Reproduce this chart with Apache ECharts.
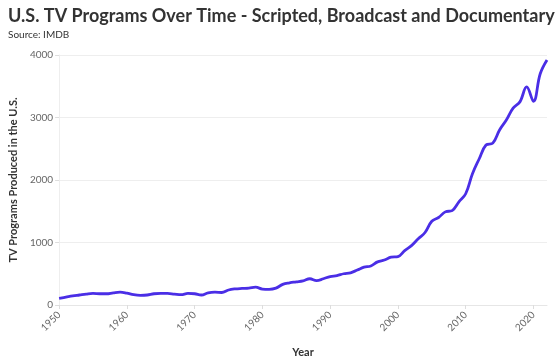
<!DOCTYPE html>
<html>
<head>
<meta charset="utf-8">
<script src="https://cdn.jsdelivr.net/npm/echarts@6/dist/echarts.min.js"></script>
<style>html,body{margin:0;padding:0;background:#fff;}#c{width:559px;height:363px;}</style>
</head>
<body>
<div id="c"></div>
<script>
const years = [];
for (let y = 1950; y <= 2022; y++) years.push(y);
const programs = [
 105,125,145,160,175,185,180,180,195,205,
 190,165,155,160,180,185,185,175,165,185,
 180,160,195,205,200,240,258,265,270,285,
 255,250,270,330,355,370,385,420,390,420,
 455,470,500,515,560,605,625,690,720,765,
 775,870,950,1060,1160,1340,1400,1490,1510,1650,
 1780,2100,2340,2560,2590,2800,2960,3150,3250,3490,
 3260,3700,3920
];
const titleText = 'U.S. TV Programs Over Time - Scripted, Broadcast and Documentary';
const subtitleText = 'Source: IMDB';
const yName = 'TV Programs Produced in the U.S.';
const xName = 'Year';

const font = 'Lato, "Noto Sans", sans-serif';
const chart = echarts.init(document.getElementById('c'));
chart.setOption({
  animation: false,
  textStyle: {fontFamily: font},
  title: {
    text: titleText,
    subtext: subtitleText,
    left: 3, top: 2,
    itemGap: 5,
    textStyle: {fontFamily: font, fontWeight: 'bold', fontSize: 18, color: '#333'},
    subtextStyle: {fontFamily: font, fontSize: 10, color: '#333'}
  },
  grid: {left: 53, right: 12, top: 55, bottom: 55},
  xAxis: {
    type: 'value', min: 1950, max: 2022, interval: 10,
    name: xName, nameLocation: 'middle', nameGap: 42,
    nameTextStyle: {fontFamily: font, fontWeight: 'bold', fontSize: 11, color: '#333'},
    axisLine: {show: true, lineStyle: {color: '#e6e6e6'}},
    axisTick: {show: true, length: 4, lineStyle: {color: '#ddd'}},
    splitLine: {show: false},
    axisLabel: {rotate: 45, fontSize: 10, color: '#666', showMaxLabel: false,
      formatter: v => (v % 10 === 0 ? String(v) : '')}
  },
  yAxis: {
    type: 'value', min: 0, max: 4000, interval: 1000,
    name: yName, nameLocation: 'middle', nameGap: 35,
    nameTextStyle: {fontFamily: font, fontWeight: 'bold', fontSize: 11, color: '#333'},
    axisLine: {show: true, lineStyle: {color: '#eeeeee'}},
    axisTick: {show: true, length: 4, lineStyle: {color: '#ddd'}},
    splitLine: {show: true, lineStyle: {color: '#eeeeee'}},
    axisLabel: {fontSize: 10, color: '#666', margin: 6, formatter: v => String(v)}
  },
  series: [{
    type: 'line',
    data: years.map((y, i) => [y, programs[i]]),
    smooth: 0.4,
    showSymbol: false,
    lineStyle: {color: '#4a2ee6', width: 2.8},
    itemStyle: {color: '#4a2ee6'}
  }]
});
</script>
</body>
</html>
